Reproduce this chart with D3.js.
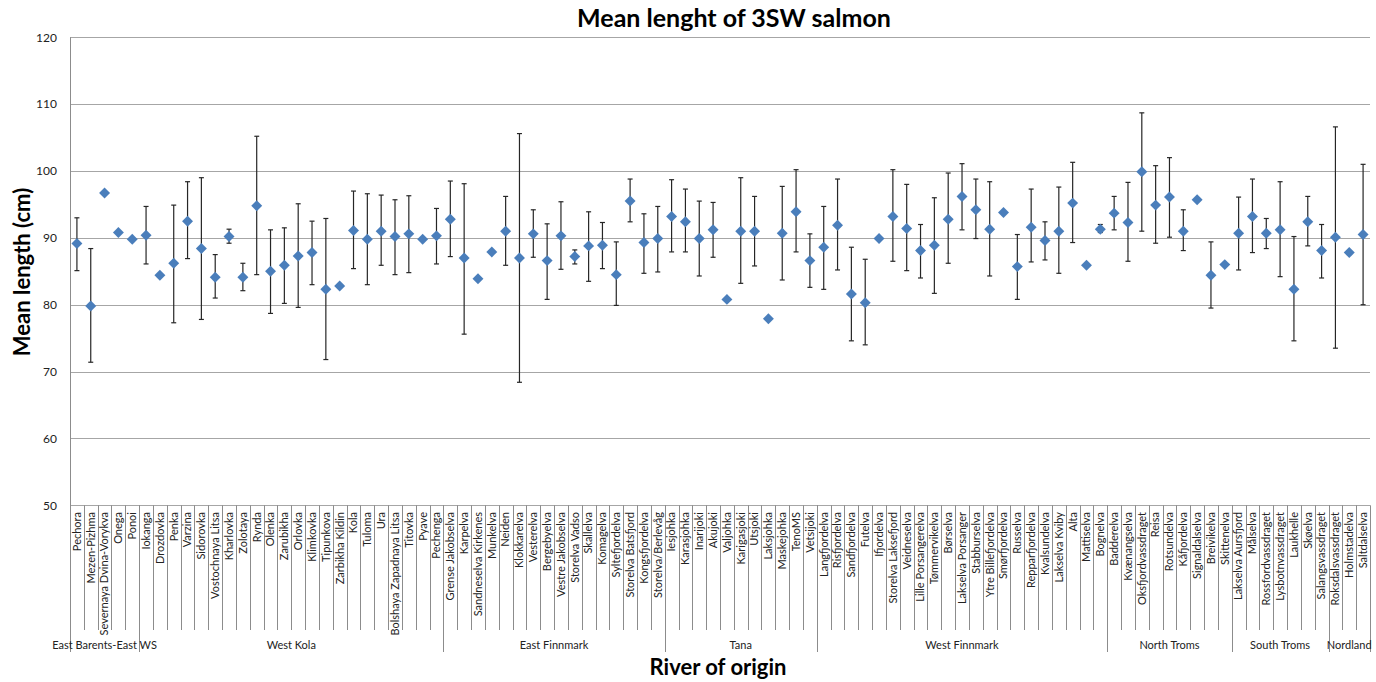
<!DOCTYPE html>
<html>
<head>
<meta charset="utf-8">
<script src="https://cdn.jsdelivr.net/npm/d3@7"></script>
<style>
  html, body { margin: 0; padding: 0; background: #fff; }
  svg { display: block; }
  text { font-family: Lato, "Open Sans", sans-serif; }
</style>
</head>
<body>
<svg id="chart" width="1376" height="682"></svg>
<script>
const groupNames = ["East Barents-East WS", "West Kola", "East Finnmark", "Tana", "West Finnmark", "North Troms", "South Troms", "Nordland"];
const groupCounts = [5, 22, 16, 11, 21, 9, 7, 3];

const rivers = [
  "Pechora","Mezen-Pizhma","Severnaya Dvina-Vorykva","Onega","Ponoi",
  "Iokanga","Drozdovka","Penka","Varzina","Sidorovka","Vostochnaya Litsa","Kharlovka","Zolotaya","Rynda","Olenka","Zarubikha","Orlovka","Klimkovka","Tipunkova","Zarbikha Kildin","Kola","Tuloma","Ura","Bolshaya Zapadnaya Litsa","Titovka","Pyave","Pechenga",
  "Grense Jakobselva","Karpelva","Sandneselva Kirkenes","Munkelva","Neiden","Klokkarelva","Vesterelva","Bergebyelva","Vestre Jakobselva","Storelva Vadso","Skallelva","Komagelva","Syltefjordelva","Storelva Batsfjord","Kongsfjordelva","Storelva/Berlevåg",
  "Iesjohka","Karasjohka","Inarijoki","Akujoki","Valjohka","Karigasjoki","Utsjoki","Laksjohka","Maskejohka","TenoMS","Vetsijoki",
  "Langfjordelva","Risfjordelva","Sandfjordelva","Futelva","Ifjordelva","Storelva Laksefjord","Veidneselva","Lille Porsangerelva","Tømmervikelva","Børselva","Lakselva Porsanger","Stabburselva","Ytre Billefjordelva","Smørfjordelva","Russelva","Repparfjordelva","Kvalsundelva","Lakselva Kviby","Alta","Mattiselva","Bognelva",
  "Badderelva","Kvænangselva","Oksfjordvassdraget","Reisa","Rotsundelva","Kåfjordelva","Signaldalselva","Breivikelva","Skittenelva",
  "Lakselva Aursfjord","Målselva","Rossfordvassdraget","Lysbotnvassdraget","Laukhelle","Skøelva","Salangsvassdraget",
  "Roksdalsvassdraget","Holmstadelva","Saltdalselva"
];

const meanLength = [
  89.15,79.8,96.7,90.8,89.8,
  90.4,84.4,86.2,92.5,88.4,84.1,90.2,84.1,94.8,85.0,85.9,87.3,87.8,82.3,82.8,91.1,89.8,91.0,90.2,90.6,89.8,90.3,
  92.8,87.0,83.9,87.9,91.0,87.0,90.6,86.6,90.3,87.2,88.8,88.9,84.5,95.5,89.3,89.9,
  93.2,92.4,89.9,91.2,80.8,91.0,91.0,77.9,90.7,93.9,86.6,
  88.6,91.9,81.6,80.3,89.9,93.2,91.4,88.1,88.9,92.8,96.2,94.2,91.3,93.8,85.7,91.6,89.6,91.0,95.2,85.9,91.3,
  93.7,92.3,99.9,94.9,96.1,91.0,95.7,84.4,86.0,
  90.7,93.2,90.7,91.2,82.3,92.4,88.1,
  90.1,87.8,90.5
];

const upperBar = [
  93.0,88.4,null,null,null,
  94.7,null,94.9,98.4,99.0,87.5,91.3,86.2,105.2,91.2,91.5,95.1,92.5,92.9,null,97.0,96.6,96.4,95.7,96.3,null,94.4,
  98.5,98.1,null,null,96.2,105.6,94.2,92.1,95.4,88.2,93.9,92.3,89.4,98.8,93.6,94.7,
  98.7,97.3,95.5,95.3,null,99.0,96.2,null,97.7,100.2,90.6,
  94.7,98.8,88.6,86.8,null,100.2,98.0,92.0,96.0,99.7,101.1,98.8,98.4,null,90.5,97.3,92.4,97.6,101.3,null,92.0,
  96.2,98.3,108.7,100.8,102.0,94.2,null,89.4,null,
  96.1,98.8,92.9,98.4,90.2,96.2,92.0,
  106.6,null,101.0
];

const lowerBar = [
  85.1,71.4,null,null,null,
  86.1,null,77.3,86.9,77.8,81.0,89.2,82.1,84.5,78.7,80.2,79.6,83.0,71.8,null,85.4,83.0,85.9,84.5,84.8,null,86.1,
  87.2,75.6,null,null,85.9,68.4,87.1,80.8,85.3,86.1,83.5,85.4,79.9,92.4,84.7,84.9,
  87.9,87.9,84.3,87.1,null,83.2,85.8,null,83.7,87.9,82.6,
  82.3,85.2,74.6,74.0,null,86.5,85.1,84.0,81.7,86.2,91.2,89.9,84.3,null,80.8,86.4,86.7,84.7,89.3,null,90.8,
  91.2,86.5,91.0,89.2,90.1,88.1,null,79.5,null,
  85.2,87.8,88.4,84.2,74.6,88.8,84.0,
  73.5,null,80.0
];

const yTicks = [50, 60, 70, 80, 90, 100, 110, 120];

(function () {
const data = rivers.map((r, i) => ({ river: r, mean: meanLength[i], hi: upperBar[i], lo: lowerBar[i] }));

let acc = 0;
const groups = groupNames.map((g, i) => {
  const start = acc; acc += groupCounts[i];
  return { name: g, first: rivers[start], last: rivers[acc - 1] };
});

const svg = d3.select("#chart");
const pLeft = 70, pRight = 1370, pTop = 37.3, pBottom = 505.3;

const x = d3.scaleBand().domain(rivers).range([pLeft, pRight]).padding(0);
const y = d3.scaleLinear().domain([50, 120]).range([pBottom, pTop]);
const bw = x.bandwidth();

// gridlines
svg.append("g").selectAll("line").data(yTicks).join("line")
  .attr("x1", pLeft).attr("x2", pRight)
  .attr("y1", d => Math.round(y(d)) + 0.5).attr("y2", d => Math.round(y(d)) + 0.5)
  .attr("stroke", "#a6a6a6").attr("stroke-width", 1);

// y tick labels
svg.append("g").selectAll("text").data(yTicks).join("text")
  .attr("x", 57).attr("y", d => y(d)).attr("dy", "0.35em")
  .attr("text-anchor", "end").attr("font-size", 12).attr("fill", "#222")
  .text(d => d);

// left axis line
svg.append("line")
  .attr("x1", pLeft + 0.5).attr("x2", pLeft + 0.5).attr("y1", pTop).attr("y2", 652)
  .attr("stroke", "#8c8c8c");

// category separators
svg.append("g").selectAll("line").data(rivers.slice(1)).join("line")
  .attr("x1", d => Math.round(x(d)) + 0.5).attr("x2", d => Math.round(x(d)) + 0.5)
  .attr("y1", pBottom).attr("y2", 630)
  .attr("stroke", "#8c8c8c");

// group separators (longer)
svg.append("g").selectAll("line").data(groups).join("line")
  .attr("x1", d => Math.round(x(d.last) + bw) + 0.5).attr("x2", d => Math.round(x(d.last) + bw) + 0.5)
  .attr("y1", pBottom).attr("y2", 652)
  .attr("stroke", "#8c8c8c");

// category labels
svg.append("g").selectAll("text").data(rivers).join("text")
  .attr("transform", d => `translate(${x(d) + bw / 2},512) rotate(-90)`)
  .attr("text-anchor", "end").attr("dy", "0.35em")
  .attr("font-size", 11).attr("fill", "#222")
  .text(d => d);

// group labels
svg.append("g").selectAll("text").data(groups).join("text")
  .attr("x", d => (x(d.first) + x(d.last) + bw) / 2).attr("y", 645).attr("dy", "0.35em")
  .attr("text-anchor", "middle").attr("font-size", 11).attr("fill", "#222")
  .text(d => d.name);

// error bars
const eb = svg.append("g").attr("stroke", "#262626").attr("stroke-width", 1.2);
const withBars = data.filter(d => d.hi != null);
eb.selectAll("line.v").data(withBars).join("line").attr("class", "v")
  .attr("x1", d => x(d.river) + bw / 2).attr("x2", d => x(d.river) + bw / 2)
  .attr("y1", d => y(d.hi)).attr("y2", d => y(d.lo));
eb.selectAll("line.t").data(withBars).join("line").attr("class", "t")
  .attr("x1", d => x(d.river) + bw / 2 - 2.5).attr("x2", d => x(d.river) + bw / 2 + 2.5)
  .attr("y1", d => y(d.hi)).attr("y2", d => y(d.hi));
eb.selectAll("line.b").data(withBars).join("line").attr("class", "b")
  .attr("x1", d => x(d.river) + bw / 2 - 2.5).attr("x2", d => x(d.river) + bw / 2 + 2.5)
  .attr("y1", d => y(d.lo)).attr("y2", d => y(d.lo));

// markers
const diamond = d3.symbol().type(d3.symbolSquare).size(60);
svg.append("g").selectAll("path").data(data).join("path")
  .attr("d", diamond)
  .attr("transform", d => `translate(${x(d.river) + bw / 2},${y(d.mean)}) rotate(45)`)
  .attr("fill", "#4a7ebb");

// titles
svg.append("text").attr("x", 734).attr("y", 27)
  .attr("text-anchor", "middle").attr("font-size", 25).attr("font-weight", "bold").attr("fill", "#000")
  .text("Mean lenght of 3SW salmon");

svg.append("text").attr("transform", "translate(30,272) rotate(-90)")
  .attr("text-anchor", "middle").attr("font-size", 22).attr("font-weight", "bold").attr("fill", "#000")
  .text("Mean length (cm)");

svg.append("text").attr("x", 718).attr("y", 675)
  .attr("text-anchor", "middle").attr("font-size", 22).attr("font-weight", "bold").attr("fill", "#000")
  .text("River of origin");
})();
</script>
</body>
</html>
